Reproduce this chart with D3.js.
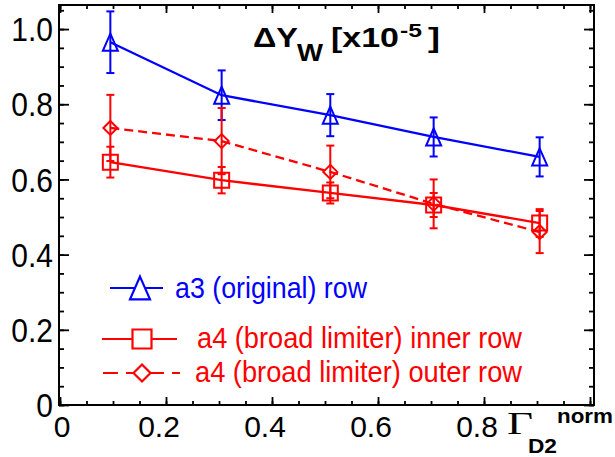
<!DOCTYPE html>
<html lang="en">
<head>
<meta charset="UTF-8">
<title>Delta Y_W vs Gamma_D2</title>
<script src="https://cdn.jsdelivr.net/npm/d3@7"></script>
<style>
    body{margin:0;background:#fff;}
    text{font-family:"Liberation Sans",Arial,Helvetica,sans-serif;}
</style>
</head>
<body>
<script>
    // data
    var xVals = [0.095, 0.305, 0.51, 0.705, 0.905];
    var a3 = [0.965, 0.824, 0.771, 0.713, 0.660];
    var a3Err = [0.082, 0.066, 0.056, 0.052, 0.052];
    var a4Inner = [0.646, 0.598, 0.564, 0.532, 0.484];
    var a4InnerErr = [0.041, 0.035, 0.028, 0.032, 0.037];
    var a4Outer = [0.737, 0.702, 0.620, 0.535, 0.460];
    var a4OuterErr = [0.088, 0.088, 0.070, 0.065, 0.056];
    var xTicks = [0, 0.2, 0.4, 0.6, 0.8];
    var xTickLabels = ["0", "0.2", "0.4", "0.6", "0.8"];
    var yTicks = [0, 0.2, 0.4, 0.6, 0.8, 1.0];
    var yTickLabels = ["0", "0.2", "0.4", "0.6", "0.8", "1.0"];

    var width = 615, height = 457;
    var frame = {left:59, right:594, top:5, bottom:405};
    var blue = '#0000ff', red = '#ff0000';

    var svg = d3.select('body').append('svg').attr('width',width).attr('height',height);

    var x = d3.scaleLinear().domain([0,1]).range([60,590]);
    var y = d3.scaleLinear().domain([0,1.064]).range([frame.bottom,frame.top]);

    var xMinor = d3.range(0,1.001,0.05);
    var yMinor = d3.range(0,1.06,0.05);

    function axis(gen, tx, ty, vals, size){
        var g = svg.append('g').attr('transform','translate('+tx+','+ty+')')
            .call(gen.tickValues(vals).tickSize(size).tickSizeOuter(0).tickFormat(''));
        g.select('.domain').remove();
        g.selectAll('line').attr('stroke','#000').attr('stroke-width',1.8);
    }
    // ticks on all four sides, pointing inwards
    axis(d3.axisBottom(x), 0, frame.bottom, xMinor, -4);
    axis(d3.axisBottom(x), 0, frame.bottom, xTicks.concat([1]), -8);
    axis(d3.axisTop(x), 0, frame.top, xMinor, -4);
    axis(d3.axisTop(x), 0, frame.top, xTicks.concat([1]), -8);
    axis(d3.axisLeft(y), frame.left, 0, yMinor, -5);
    axis(d3.axisLeft(y), frame.left, 0, yTicks, -10);
    axis(d3.axisRight(y), frame.right, 0, yMinor, -5);
    axis(d3.axisRight(y), frame.right, 0, yTicks, -10);

    svg.append('rect').attr('x',frame.left).attr('y',frame.top)
        .attr('width',frame.right-frame.left).attr('height',frame.bottom-frame.top)
        .attr('fill','none').attr('stroke','#000').attr('stroke-width',2);

    // tick labels
    svg.selectAll('.xlab').data(xTicks).enter().append('text')
        .attr('class','xlab')
        .attr('x',function(d){return d === 0 ? x(d)+2 : x(d)-7;})
        .attr('y',437)
        .attr('text-anchor','middle')
        .attr('font-size','30px')
        .text(function(d,i){return xTickLabels[i];});

    svg.selectAll('.ylab').data(yTicks).enter().append('text')
        .attr('class','ylab')
        .attr('transform',function(d){return 'translate(53,'+y(d)+') scale(1,1.13)';})
        .attr('dy',10.7)
        .attr('text-anchor','end')
        .attr('font-size','30px')
        .text(function(d,i){return yTickLabels[i];});

    // series
    var series = [
        {vals:a3, err:a3Err, color:blue, dash:null, marker:'tri'},
        {vals:a4Outer, err:a4OuterErr, color:red, dash:'9,5', marker:'dia'},
        {vals:a4Inner, err:a4InnerErr, color:red, dash:null, marker:'sq'}
    ];

    var markerPath = {
        tri: function(s){return 'M0,'+(-s*0.57)+'L'+(s*0.5)+','+(s*0.57)+'L'+(-s*0.5)+','+(s*0.57)+'Z';},
        sq: function(s){var h=s/2;return 'M'+(-h)+','+(-h)+'H'+h+'V'+h+'H'+(-h)+'Z';},
        dia: function(s){var h=s/2;return 'M0,'+(-h)+'L'+h+',0L0,'+h+'L'+(-h)+',0Z';}
    };

    var line = d3.line()
        .x(function(d){return x(d[0]);})
        .y(function(d){return y(d[1]);});

    series.forEach(function(s){
        var pts = xVals.map(function(v,i){return [v, s.vals[i], s.err[i]];});
        svg.append('path').datum(pts)
            .attr('d',line)
            .attr('fill','none')
            .attr('stroke',s.color)
            .attr('stroke-width',2.3)
            .attr('stroke-dasharray',s.dash);
        var eb = svg.append('g').attr('stroke',s.color).attr('stroke-width',2);
        pts.forEach(function(p){
            var cx = x(p[0]);
            eb.append('line').attr('x1',cx).attr('x2',cx)
                .attr('y1',y(p[1]-p[2])).attr('y2',y(p[1]+p[2]));
            [p[1]-p[2], p[1]+p[2]].forEach(function(v){
                eb.append('line').attr('x1',cx-4).attr('x2',cx+4)
                    .attr('y1',y(v)).attr('y2',y(v));
            });
        });
        svg.selectAll(null).data(pts).enter().append('path')
            .attr('transform',function(d){return 'translate('+x(d[0])+','+y(d[1])+')';})
            .attr('d',markerPath[s.marker](s.marker=='dia'?14:15))
            .attr('fill','none')
            .attr('stroke',s.color)
            .attr('stroke-width',2);
    });

    // legend
    var legend = [
        {text:'a3 (original) row', color:blue, dash:null, marker:'tri', x1:110, x2:163, mx:140, y:288, tx:175, tw:192, ty:298, ms:20},
        {text:'a4 (broad limiter) inner row', color:red, dash:null, marker:'sq', x1:102, x2:177, mx:142, y:339, tx:197, tw:325, ty:348, ms:19},
        {text:'a4 (broad limiter) outer row', color:red, dash:'15,8', marker:'dia', x1:103, x2:180, mx:142, y:373, tx:195, tw:327, ty:382, ms:17}
    ];
    legend.forEach(function(l){
        svg.append('line').attr('x1',l.x1).attr('x2',l.x2).attr('y1',l.y).attr('y2',l.y)
            .attr('stroke',l.color).attr('stroke-width',2.2).attr('stroke-dasharray',l.dash);
        svg.append('path').attr('transform','translate('+l.mx+','+l.y+')')
            .attr('d',markerPath[l.marker](l.ms))
            .attr('fill','#fff').attr('stroke',l.color).attr('stroke-width',2.2);
        svg.append('text').attr('x',l.tx).attr('y',l.ty)
            .attr('font-size','29px').attr('fill',l.color)
            .attr('textLength',l.tw).attr('lengthAdjust','spacingAndGlyphs')
            .text(l.text);
    });

    // title
    function bold(t, tx, ty, size, len){
        var e = svg.append('text').attr('x',tx).attr('y',ty)
            .attr('font-size',size+'px').attr('font-weight','bold').text(t);
        if(len) e.attr('textLength',len).attr('lengthAdjust','spacingAndGlyphs');
        return e;
    }
    bold('\u0394Y', 253, 47, 27, 45);
    bold('W', 297, 61, 24, 26);
    bold('[x10', 331, 47, 27, 68);
    bold('-5', 400, 37, 18, 22);
    bold(']', 428, 47, 27, 12);

    // x axis title
    svg.append('text').attr('x',507).attr('y',434)
        .style('font-family','"Liberation Serif","Times New Roman",serif')
        .attr('font-size','31px').attr('textLength',26).attr('lengthAdjust','spacingAndGlyphs')
        .text('\u0393');
    bold('D2', 528, 453, 21, 29);
    bold('norm', 557, 423, 21, 56);
</script>
</body>
</html>
